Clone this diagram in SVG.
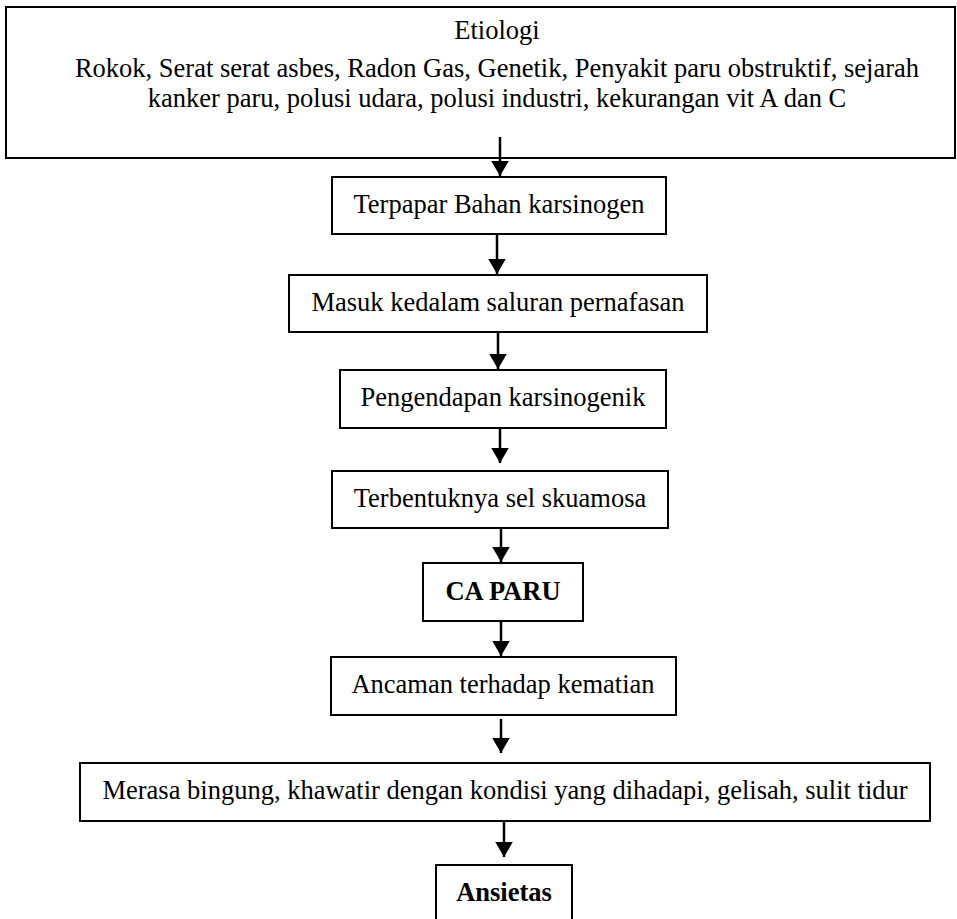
<svg xmlns="http://www.w3.org/2000/svg" width="957" height="919" viewBox="0 0 957 919">
<style>
.box{fill:#fff;stroke:#000;stroke-width:2}
.t{font-family:"Liberation Serif","Times New Roman",serif;font-size:26.5px;fill:#000;text-anchor:middle}
.b{font-weight:bold}
.c{stroke:#000;stroke-width:2.5;fill:none}
</style>
<defs>
<marker id="ah" markerWidth="6" markerHeight="7" refX="6" refY="3.5" orient="auto" markerUnits="strokeWidth" viewBox="0 0 6 7">
<path d="M0,0 L6,3.5 L0,7 Z" fill="#000"/>
</marker>
</defs>
<rect width="957" height="919" fill="#fff"/>
<g id="etiologi">
<rect class="box" x="6" y="7" width="949" height="151"/>
<text class="t" x="497" y="39">Etiologi</text>
<text class="t" x="497" y="77">Rokok, Serat serat asbes, Radon Gas, Genetik, Penyakit paru obstruktif, sejarah</text>
<text class="t" x="497" y="107">kanker paru, polusi udara, polusi industri, kekurangan vit A dan C</text>
</g>
<g id="terpapar">
<rect class="box" x="332" y="177" width="334" height="57"/>
<text class="t" x="499" y="213">Terpapar Bahan karsinogen</text>
</g>
<g id="masuk">
<rect class="box" x="289" y="275" width="418" height="57"/>
<text class="t" x="498" y="311">Masuk kedalam saluran pernafasan</text>
</g>
<g id="pengendapan">
<rect class="box" x="340" y="370" width="326" height="58"/>
<text class="t" x="503" y="406">Pengendapan karsinogenik</text>
</g>
<g id="terbentuk">
<rect class="box" x="332" y="471" width="336" height="57"/>
<text class="t" x="500" y="507">Terbentuknya sel skuamosa</text>
</g>
<g id="caparu">
<rect class="box" x="423" y="563" width="160" height="58"/>
<text class="t b" x="503" y="600">CA PARU</text>
</g>
<g id="ancaman">
<rect class="box" x="331" y="657" width="345" height="58"/>
<text class="t" x="503" y="693">Ancaman terhadap kematian</text>
</g>
<g id="merasa">
<rect class="box" x="80" y="763" width="850" height="58"/>
<text class="t" x="505" y="799">Merasa bingung, khawatir dengan kondisi yang dihadapi, gelisah, sulit tidur</text>
</g>
<g id="ansietas">
<rect class="box" x="436" y="865" width="136" height="64"/>
<text class="t b" x="504" y="901">Ansietas</text>
</g>
<g id="connectors">
<line class="c" x1="500" y1="137" x2="500" y2="176" marker-end="url(#ah)"/>
<line class="c" x1="497" y1="234" x2="497" y2="274" marker-end="url(#ah)"/>
<line class="c" x1="498" y1="332" x2="498" y2="369" marker-end="url(#ah)"/>
<line class="c" x1="500" y1="428" x2="500" y2="463" marker-end="url(#ah)"/>
<line class="c" x1="501" y1="528" x2="501" y2="562" marker-end="url(#ah)"/>
<line class="c" x1="501" y1="621" x2="501" y2="656" marker-end="url(#ah)"/>
<line class="c" x1="501" y1="719" x2="501" y2="753" marker-end="url(#ah)"/>
<line class="c" x1="504" y1="821" x2="504" y2="857" marker-end="url(#ah)"/>
</g>
</svg>
